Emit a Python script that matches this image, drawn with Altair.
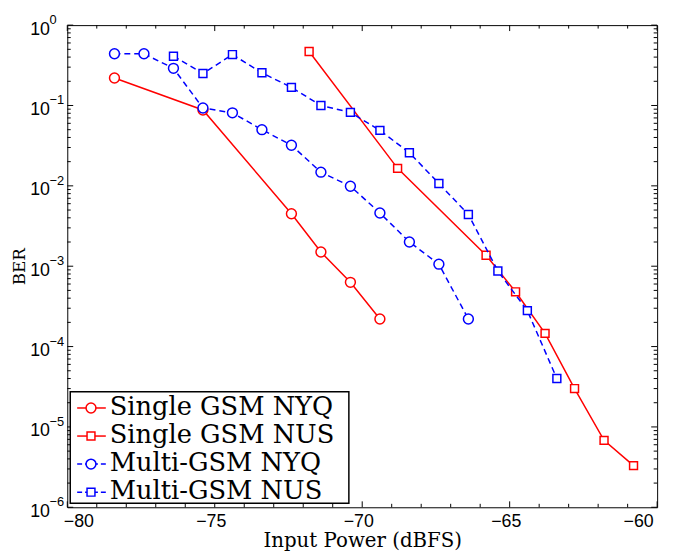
import altair as alt
import pandas as pd

# ---------------- data ----------------
x_single_nyq = [-78.4, -75.4, -72.4, -71.4, -70.4, -69.4]
ber_single_nyq = [0.22, 0.088, 0.0045, 0.0015, 0.00063, 0.00022]

x_single_nus = [-71.8, -68.8, -65.8, -64.8, -63.8, -62.8, -61.8, -60.8]
ber_single_nus = [0.47, 0.0165, 0.00137, 0.00048, 0.000146, 3.0e-5, 6.8e-6, 3.3e-6]

x_multi_nyq = [-78.4, -77.4, -76.4, -75.4, -74.4, -73.4, -72.4, -71.4,
               -70.4, -69.4, -68.4, -67.4, -66.4]
ber_multi_nyq = [0.44, 0.44, 0.29, 0.093, 0.081, 0.05, 0.032, 0.0148,
                 0.0099, 0.0046, 0.0020, 0.00106, 0.00022]

x_multi_nus = [-76.4, -75.4, -74.4, -73.4, -72.4, -71.4, -70.4, -69.4,
               -68.4, -67.4, -66.4, -65.4, -64.4, -63.4]
ber_multi_nus = [0.41, 0.25, 0.43, 0.255, 0.168, 0.1, 0.082, 0.049,
                 0.0258, 0.0107, 0.0044, 0.00087, 0.00028, 4.0e-5]

series_names = ["Single GSM NYQ", "Single GSM NUS", "Multi-GSM NYQ", "Multi-GSM NUS"]

x_major = [-80, -75, -70, -65, -60]
x_minor = [v for v in range(-80, -59) if v not in x_major]
y_major = [1e-6, 1e-5, 1e-4, 1e-3, 1e-2, 1e-1, 1.0]
y_exponents = ["\u22126", "\u22125", "\u22124", "\u22123", "\u22122", "\u22121", "0"]
y_minor = [m * 10.0 ** k for k in range(-6, 0) for m in range(2, 10)]

# ---------------- layout / style ----------------
W, H = 597, 488
RED, BLUE = "#ff0000", "#0000ff"
DASH = [6, 4]

xs = alt.Scale(domain=[-80, -60], nice=False, zero=False)
ys = alt.Scale(type="log", domain=[1e-6, 1], nice=False)

x_axis = alt.Axis(values=x_major, ticks=False, domain=False, grid=False,
                  labelFont="Liberation Sans", labelFontSize=18, labelPadding=5,
                  labelOffset=-4, labelColor="black",
                  title="Input Power (dBFS)", titleFont="DejaVu Serif",
                  titleFontSize=20, titleFontWeight="normal", titleColor="black",
                  titleBaseline="alphabetic", titleY=40)
y_axis = alt.Axis(values=y_major, labelExpr="'10'", ticks=False, domain=False,
                  grid=False, labelFont="Liberation Sans", labelFontSize=18,
                  labelPadding=18, labelOffset=4, labelBaseline="middle",
                  labelColor="black",
                  title="BER", titleFont="DejaVu Serif", titleFontSize=17,
                  titleFontWeight="normal", titleColor="black",
                  titleAngle=270, titleBaseline="alphabetic", titleAlign="center",
                  titleX=-43, titleY=H / 2)


def series(xv, yv, color, shape, size, dash=None):
    df = pd.DataFrame({"x": xv, "y": yv})
    base = alt.Chart(df)
    line_kw = dict(color=color, strokeWidth=1.5)
    if dash:
        line_kw["strokeDash"] = dash
    line = base.mark_line(**line_kw).encode(
        x=alt.X("x:Q", scale=xs, axis=x_axis),
        y=alt.Y("y:Q", scale=ys, axis=y_axis),
    )
    pts = base.mark_point(shape=shape, filled=True, fill="white", stroke=color,
                          strokeWidth=1.5, size=size, opacity=1).encode(
        x=alt.X("x:Q", scale=xs),
        y=alt.Y("y:Q", scale=ys),
    )
    return [line, pts]


def xticks(vals, length):
    df = pd.DataFrame({"v": vals})
    b = alt.Chart(df).mark_rule(color="black", strokeWidth=1)
    return [
        b.encode(x=alt.X("v:Q", scale=xs), y=alt.value(H), y2=alt.value(H - length)),
        b.encode(x=alt.X("v:Q", scale=xs), y=alt.value(0), y2=alt.value(length)),
    ]


def yticks(vals, length):
    df = pd.DataFrame({"v": vals})
    b = alt.Chart(df).mark_rule(color="black", strokeWidth=1)
    return [
        b.encode(y=alt.Y("v:Q", scale=ys), x=alt.value(0), x2=alt.value(length)),
        b.encode(y=alt.Y("v:Q", scale=ys), x=alt.value(W), x2=alt.value(W - length)),
    ]


layers = []
layers += xticks(x_major, 6) + xticks(x_minor, 3.5)
layers += yticks(y_major, 6) + yticks(y_minor, 3.5)

layers += series(x_single_nyq, ber_single_nyq, RED, "circle", 100)
layers += series(x_single_nus, ber_single_nus, RED, "square", 64)
layers += series(x_multi_nyq, ber_multi_nyq, BLUE, "circle", 100, DASH)
layers += series(x_multi_nus, ber_multi_nus, BLUE, "square", 64, DASH)

# exponents of the y tick labels
exp_df = pd.DataFrame({"v": y_major, "e": y_exponents})
layers.append(
    alt.Chart(exp_df).mark_text(align="left", baseline="middle", font="Liberation Sans",
                                fontSize=13, color="black", dy=-5).encode(
        x=alt.value(-18), y=alt.Y("v:Q", scale=ys), text="e:N")
)

# ---------------- legend ----------------
one = pd.DataFrame({"a": [0]})
layers.append(
    alt.Chart(one).mark_rect(fill="white", stroke="black", strokeWidth=1.5).encode(
        x=alt.value(3), x2=alt.value(285), y=alt.value(371), y2=alt.value(484))
)
leg_specs = [(RED, "circle", 100, None), (RED, "square", 64, None),
             (BLUE, "circle", 100, DASH), (BLUE, "square", 64, DASH)]
for i, (name, (color, shape, size, dash)) in enumerate(zip(series_names, leg_specs)):
    cy = 387.5 + 28.4 * i
    rule_kw = dict(color=color, strokeWidth=1.5)
    if dash:
        rule_kw["strokeDash"] = [5, 3]
    layers.append(alt.Chart(one).mark_rule(**rule_kw).encode(
        x=alt.value(10), x2=alt.value(39), y=alt.value(cy)))
    layers.append(alt.Chart(one).mark_point(shape=shape, filled=True, fill="white",
                                            stroke=color, strokeWidth=1.5, size=size,
                                            opacity=1).encode(
        x=alt.value(24), y=alt.value(cy)))
    layers.append(alt.Chart(one).mark_text(align="left", baseline="alphabetic",
                                           font="DejaVu Serif", fontSize=26,
                                           color="black").encode(
        x=alt.value(43), y=alt.value(cy + 7), text=alt.value(name)))

chart = alt.layer(*layers).properties(
    width=W, height=H,
    autosize=alt.AutoSizeParams(type="none"),
    padding={"left": 60, "top": 14, "right": 11, "bottom": 48},
    background="white",
).configure_view(stroke="black", strokeWidth=1)

chart.save("out.html", embed_options={"renderer": "svg", "actions": False})
